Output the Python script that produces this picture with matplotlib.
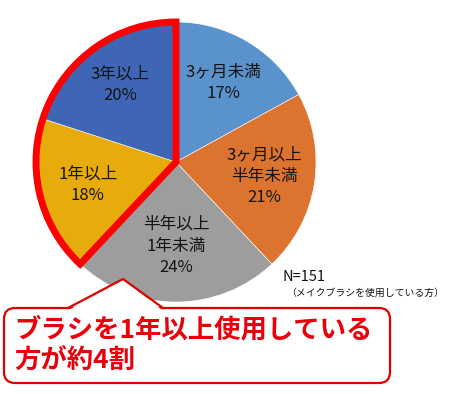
import matplotlib
matplotlib.use("Agg")
import matplotlib.pyplot as plt
from matplotlib.patches import Wedge, FancyBboxPatch, Polygon
import numpy as np

plt.rcParams['font.family'] = ['Noto Sans CJK JP', 'DejaVu Sans']

# data (clockwise from 12 o'clock)
labels = ['3ヶ月未満', '3ヶ月以上\n半年未満', '半年以上\n1年未満', '1年以上', '3年以上']
values = [17, 21, 24, 18, 20]
colors = ['#5a92cc', '#dc7430', '#9d9d9d', '#e8ab0c', '#3f66b4']
label_dist = [0.66, 0.64, 0.60, 0.65, 0.68]
highlight = [3, 4]  # 1年以上 + 3年以上
note_n = 'N=151'
note_sub = '（メイクブラシを使用している方）'
callout = 'ブラシを1年以上使用している\n方が約4割'

W, H = 472, 394
fig = plt.figure(figsize=(W / 100, H / 100), dpi=100)
ax = fig.add_axes([0, 0, 1, 1])

cx, cy, R = 176, H - 162, 140
wedges, _ = ax.pie(values, colors=colors, startangle=90, counterclock=False,
                   center=(cx, cy), radius=R,
                   wedgeprops=dict(edgecolor='white', linewidth=0.4))

for w, lab, val, d in zip(wedges, labels, values, label_dist):
    ang = np.deg2rad((w.theta1 + w.theta2) / 2)
    x = cx + d * R * np.cos(ang)
    y = cy + d * R * np.sin(ang)
    ax.text(x, y, f'{lab}\n{val}%', ha='center', va='center', fontsize=12,
            color='#141414', linespacing=1.35)

# red outline round the highlighted slices
t1 = min(wedges[i].theta1 for i in highlight)
t2 = max(wedges[i].theta2 for i in highlight)
ax.add_patch(Wedge((cx, cy), R, t1, t2, fill=False, edgecolor='#ff0000',
                   linewidth=5, joinstyle='miter', zorder=5))

# sample note
ax.text(283, H - 277, note_n, fontsize=10.5, ha='left', va='center', color='#111111')
ax.text(286, H - 293, note_sub, fontsize=7.1, ha='left', va='center', color='#111111')

# callout box with pointer
red = '#e00000'
bx0, by0, bx1, by1 = 4, H - 383, 390, H - 308
ax.add_patch(FancyBboxPatch((bx0, by0), bx1 - bx0, by1 - by0,
                            boxstyle='round,pad=0,rounding_size=11',
                            facecolor='white', edgecolor=red, linewidth=1.6, zorder=6))
tip = (123, H - 279)
lb, rb = (68, by1), (163, by1)
ax.add_patch(Polygon([(lb[0] + 1, by1 - 2), tip, (rb[0] - 1, by1 - 2)], closed=True,
                     facecolor='white', edgecolor='none', zorder=7))
ax.plot([lb[0], tip[0], rb[0]], [lb[1], tip[1], rb[1]], color=red, linewidth=1.6,
        zorder=8, solid_joinstyle='miter')
ax.text(14, H - 345, callout, fontsize=19, fontweight='bold', color='#e8000b',
        ha='left', va='center', linespacing=1.12, zorder=9)

ax.set_xlim(0, W)
ax.set_ylim(0, H)
ax.set_aspect('equal')
ax.axis('off')

fig.savefig('out.png', dpi=100)
